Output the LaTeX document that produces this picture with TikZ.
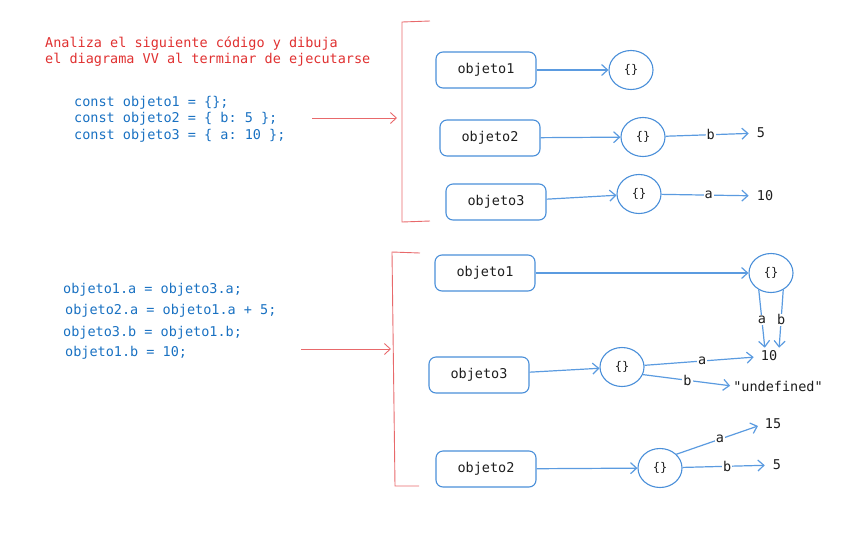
\documentclass[tikz,border=0pt]{standalone}
\usepackage{fontspec}
\setmonofont{DejaVu Sans Mono}
\usetikzlibrary{positioning, shapes.geometric, arrows.meta}

\definecolor{rojo}{HTML}{E03131}
\definecolor{rojolinea}{HTML}{E8696B}
\definecolor{azul}{HTML}{1971C2}
\definecolor{bordeazul}{HTML}{4A8FD9}
\definecolor{flechaazul}{HTML}{5B9BE0}
\definecolor{tinta}{HTML}{1E1E1E}

\newcommand{\letra}{\ttfamily\fontsize{13.5}{16.5}\selectfont}
\newcommand{\letrachica}{\ttfamily\fontsize{12}{14}\selectfont}

\tikzset{
	caja/.style={draw=bordeazul, line width=1.1pt, rounded corners=7pt,
		minimum width=100pt, minimum height=36pt, text=tinta, font=\letra},
	objeto/.style={ellipse, draw=bordeazul, line width=1.1pt, inner sep=0pt,
		minimum width=44pt, minimum height=39pt, text=tinta, font=\letrachica},
	flecha/.style={-{Straight Barb[length=6pt,width=11pt]}, draw=flechaazul, line width=1.2pt},
	flecharoja/.style={-{Straight Barb[length=6pt,width=11pt]}, draw=rojolinea, line width=0.9pt},
	corchete/.style={draw=rojolinea, line width=0.9pt},
	etiq/.style={fill=white, inner sep=1pt, text=tinta, font=\letra},
	valor/.style={inner sep=1pt, text=tinta, font=\letra},
	codigo/.style={anchor=west, inner sep=0pt, align=left, text=azul, font=\letra},
	titulo/.style={anchor=west, inner sep=0pt, align=left, text=rojo,
		font=\ttfamily\fontsize{13.5}{16}\selectfont},
}

\begin{document}
\begin{tikzpicture}[x=1pt, y=-1pt]
	\useasboundingbox (0,0) rectangle (846,547);

	% enunciado
	\node[titulo] (titulo) at (45,52) {Analiza el siguiente código y dibuja\\el diagrama VV al terminar de ejecutarse};

	% primer bloque de codigo
	\node[codigo] (codigo1) at (74,119) {const objeto1 = \{\};\\const objeto2 = \{ b: 5 \};\\const objeto3 = \{ a: 10 \};};
	\coordinate (ini1) at (312,118);
	\coordinate (fin1) at (397,118);
	\draw[flecharoja] (ini1) -- (fin1);
	\draw[corchete] (430,21) -- (402,22) -- (402,222) -- (430,221);

	% primer diagrama
	\node[caja] (o1) at (486,70) {objeto1};
	\node[objeto] (c1) at (631,70) {\{\}};
	\draw[flecha] (o1) -- (c1);

	\node[caja] (o2) at (490,138) {objeto2};
	\node[objeto] (c2) at (643,137) {\{\}};
	\node[valor] (v5) at (761,133) {5};
	\draw[flecha] (o2) -- (c2);
	\draw[flecha, shorten >=7pt] (c2) -- node[etiq] {b} (v5);

	\node[caja] (o3) at (496,202) {objeto3};
	\node[objeto] (c3) at (639,194) {\{\}};
	\node[valor] (v10) at (765,196) {10};
	\draw[flecha] (o3) -- (c3);
	\draw[flecha, shorten >=7pt] (c3) -- node[etiq] {a} (v10);

	% segundo bloque de codigo
	\node[codigo] (linea1) at (63,290) {objeto1.a = objeto3.a;};
	\node[codigo] (linea2) at (65,311) {objeto2.a = objeto1.a + 5;};
	\node[codigo] (linea3) at (63,333) {objeto3.b = objeto1.b;};
	\node[codigo] (linea4) at (65,353) {objeto1.b = 10;};
	\coordinate (ini2) at (301,349);
	\coordinate (fin2) at (391,349);
	\draw[flecharoja] (ini2) -- (fin2);
	\draw[corchete] (420,253) -- (392,252) -- (395,486) -- (419,486);

	% segundo diagrama
	\node[caja] (p1) at (485,273) {objeto1};
	\node[objeto] (d1) at (771,273) {\{\}};
	\node[valor] (w10) at (769,356) {10};
	\draw[flecha] (p1) -- (d1);
	\draw[flecha, shorten >=2pt] (d1.234) -- node[etiq] {a} ([xshift=-4pt]w10.north);
	\draw[flecha, shorten >=2pt] (d1.306) -- node[etiq] {b} ([xshift=10pt]w10.north);

	\node[caja] (p3) at (479,375) {objeto3};
	\node[objeto] (d3) at (622,367) {\{\}};
	\node[valor] (indef) at (778,386) {"undefined"};
	\draw[flecha] (p3) -- (d3);
	\draw[flecha, shorten >=6pt] (d3) -- node[etiq] {a} (w10);
	\draw[flecha, shorten >=2pt] (d3.340) -- node[etiq] {b} (indef.west);

	\node[caja] (p2) at (486,469) {objeto2};
	\node[objeto] (d2) at (660,468) {\{\}};
	\node[valor] (v15) at (773,424) {15};
	\node[valor] (w5) at (777,465) {5};
	\draw[flecha] (p2) -- (d2);
	\draw[flecha, shorten >=6pt] (d2.40) -- node[etiq] {a} (v15.west);
	\draw[flecha, shorten >=7pt] (d2) -- node[etiq] {b} (w5);
\end{tikzpicture}
\end{document}
